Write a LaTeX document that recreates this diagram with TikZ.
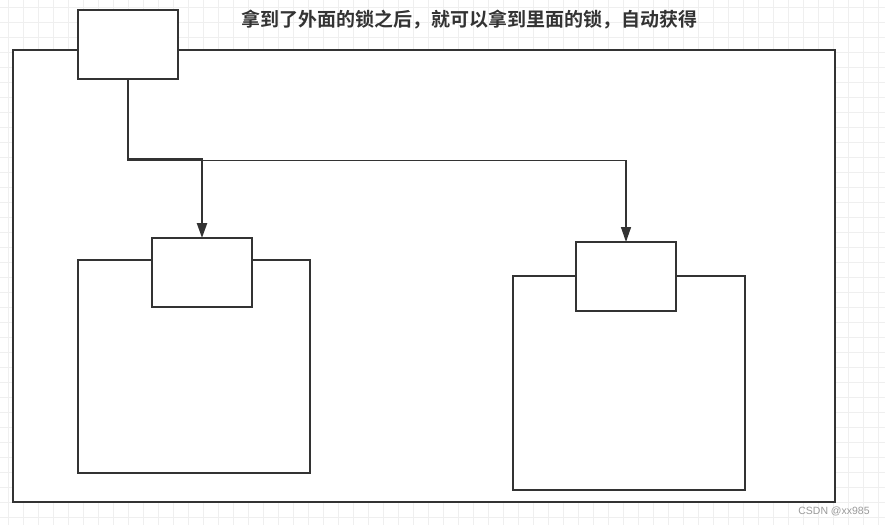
\documentclass[tikz,border=0pt]{standalone}
\usepackage{fontspec}
\setmainfont{Liberation Sans}
\newfontfamily\cjk{Noto Sans CJK SC}[BoldFont={* Bold}]
\usetikzlibrary{arrows.meta,calc}
\definecolor{ink}{HTML}{333333}
\definecolor{gridc}{HTML}{EFEFEF}
\definecolor{wm}{HTML}{9A9A9A}
\tikzset{
  box/.style={draw=ink, line width=2pt, fill=white, inner sep=0pt, outer sep=0pt},
  conn/.style={draw=ink, line width=2pt, -{Triangle[width=10pt,length=15pt]}},
}
\begin{document}
\begin{tikzpicture}[x=1pt,y=-1pt]
\useasboundingbox (0,0) rectangle (885,525);
\fill[white] (0,0) rectangle (885,525);
% background grid
\foreach \gx in {8,23,...,885} \draw[gridc, line width=0.8pt] (\gx,0) -- (\gx,525);
\foreach \gy in {7,22,...,525} \draw[gridc, line width=0.8pt] (0,\gy) -- (885,\gy);
% containers
\node[box, minimum width=822pt, minimum height=452pt] (outer) at (424,276) {};
\node[box, minimum width=232pt, minimum height=213pt] (lbig) at (194,366.5) {};
\node[box, minimum width=232pt, minimum height=214pt] (rbig) at (629,383) {};
% lock boxes
\node[box, minimum width=100pt, minimum height=69pt] (top) at (128,44.5) {};
\node[box, minimum width=100pt, minimum height=69pt] (lsmall) at (202,272.5) {};
\node[box, minimum width=100pt, minimum height=69pt] (rsmall) at (626,276.5) {};
% connectors
\coordinate (b1) at (128,159);
\coordinate (b2) at (128,160.5);
\draw[conn, line width=2.4pt] (top.south) -- (b1) -| (lsmall.north);
\draw[conn, line width=1.4pt] (top.south) -- (b2) -| (rsmall.north);
% title
\node[text=ink, font=\cjk\bfseries\fontsize{19pt}{21pt}\selectfont, inner sep=0pt] (title) at (469.5,20) {拿到了外面的锁之后，就可以拿到里面的锁，自动获得};
% watermark
\node[text=wm, font=\fontsize{10.5pt}{12pt}\selectfont, inner sep=0pt] (wmark) at (834,511) {CSDN @xx985};
\end{tikzpicture}
\end{document}
